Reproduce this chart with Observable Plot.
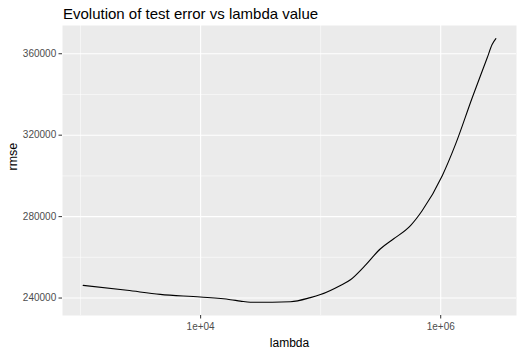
<!DOCTYPE html>
<html>
<head>
<meta charset="utf-8">
<script src="https://cdn.jsdelivr.net/npm/d3@7"></script>
<script src="https://cdn.jsdelivr.net/npm/@observablehq/plot@0.6"></script>
<style>
  html, body { margin: 0; padding: 0; background: #ffffff; }
</style>
</head>
<body>
<div id="chart"></div>
<script>
// Data
const lambda = [1050, 2440, 4610, 9950, 17700, 21400, 25900, 56000, 82000, 99600, 146000, 177000, 228000, 315000, 406000, 560000, 700000, 1030000, 1330000, 1830000, 2440000, 2680000, 2880000];
const rmse = [246200, 243800, 241800, 240500, 239200, 238500, 237900, 238200, 240200, 241700, 246200, 249000, 255200, 264200, 269100, 275600, 282900, 300100, 315600, 338400, 358000, 364500, 367400];

const xMajor = [1e4, 1e6];
const xMinor = [1e3, 1e5];
const yMajor = [240000, 280000, 320000, 360000];
const yMinor = [260000, 300000, 340000];

const title = "Evolution of test error vs lambda value";
const xTitle = "lambda";
const yTitle = "rmse";

const data = lambda.map((l, i) => ({lambda: l, rmse: rmse[i]}));

// ggplot-like 5% expansion
const lx = lambda.map(Math.log10);
const lxLo = d3.min(lx), lxHi = d3.max(lx);
const px = (lxHi - lxLo) * 0.05;
const xDomain = [10 ** (lxLo - px), 10 ** (lxHi + px)];
const yLo = d3.min(rmse), yHi = d3.max(rmse);
const py = (yHi - yLo) * 0.05;
const yDomain = [yLo - py, yHi + py];

const fmtExp = d => {
  const e = Math.round(Math.log10(d));
  return "1e+" + String(e).padStart(2, "0");
};

const font = "'Liberation Sans', Arial, sans-serif";

const chart = Plot.plot({
  width: 523,
  height: 352,
  marginLeft: 62,
  marginRight: 7,
  marginTop: 25,
  marginBottom: 37,
  style: {fontFamily: font, background: "#ffffff", overflow: "visible"},
  x: {type: "log", domain: xDomain},
  y: {type: "linear", domain: yDomain},
  marks: [
    Plot.frame({fill: "#ebebeb", stroke: null}),
    Plot.ruleX(xMinor, {stroke: "#ffffff", strokeWidth: 0.55}),
    Plot.ruleY(yMinor, {stroke: "#ffffff", strokeWidth: 0.55}),
    Plot.ruleX(xMajor, {stroke: "#ffffff", strokeWidth: 1.1}),
    Plot.ruleY(yMajor, {stroke: "#ffffff", strokeWidth: 1.1}),
    Plot.line(data, {x: "lambda", y: "rmse", stroke: "#000000", strokeWidth: 1.1, curve: "monotone-x"}),
    Plot.axisX({ticks: xMajor, tickFormat: fmtExp, tickSize: 3.5, tickPadding: 4.3, fontSize: 10, color: "#4d4d4d", stroke: "#333333", label: null}),
    Plot.axisY({ticks: yMajor, tickFormat: d => String(d), tickSize: 3.5, tickPadding: 2.8, fontSize: 10, color: "#4d4d4d", stroke: "#333333", label: null}),
    Plot.text([xTitle], {frameAnchor: "bottom", dy: 31, lineAnchor: "bottom", fontSize: 12, fill: "#000000"}),
    Plot.text([yTitle], {frameAnchor: "left", dx: -45.5, rotate: -90, lineAnchor: "bottom", fontSize: 12.5, fill: "#000000"}),
    Plot.text([title], {frameAnchor: "top-left", dx: 0.5, dy: -6.7, lineAnchor: "bottom", textAnchor: "start", fontSize: 15, fill: "#000000"})
  ]
});

document.getElementById("chart").appendChild(chart);
</script>
</body>
</html>
